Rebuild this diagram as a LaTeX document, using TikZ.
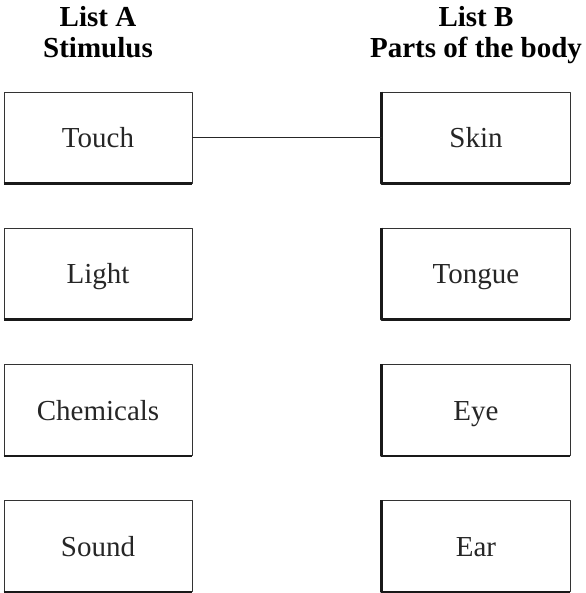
\documentclass[tikz,border=0pt]{standalone}
\usepackage{fontspec}
\setmainfont{Liberation Serif}
\usetikzlibrary{positioning}
\begin{document}
\begin{tikzpicture}[x=1pt, y=-1pt, line cap=round, line join=round,
  itembox/.style={draw=black!80, line width=0.8pt, minimum width=188pt, minimum height=91pt,
    text height=20pt, text depth=0pt, text=black!85, font=\fontsize{29}{34}\selectfont},
  heading/.style={anchor=south, inner sep=0pt, align=center, text depth=0pt,
    font=\bfseries\fontsize{29}{31}\selectfont},
  heavyedge/.style={line width=2.6pt, line cap=butt, black!90}]
  \useasboundingbox (0,0) rectangle (585,593);
  % list A
  \node[itembox] (touch) at (98,137.5) {Touch};
  \node[itembox] (light) at (98,273.5) {Light};
  \node[itembox] (chem)  at (98,410) {Chemicals};
  \node[itembox] (sound) at (98,546) {Sound};
  % list B
  \node[itembox] (skin)   at (476,137.5) {Skin};
  \node[itembox] (tongue) at (476,273.5) {Tongue};
  \node[itembox] (eye)    at (476,410) {Eye};
  \node[itembox] (ear)    at (476,546) {Ear};
  \node[heading] (lista) at (98,58) {List A\\Stimulus};
  \node[heading] (listb) at (476,58) {List B\\Parts of the body};
  % heavy edges
  \draw[heavyedge] (touch.south west) -- (touch.south east);
  \draw[heavyedge] (light.south west) -- (light.south east);
  \draw[heavyedge] (chem.south west) -- (chem.south east);
  \draw[heavyedge] (sound.south west) -- (sound.south east);
  \draw[heavyedge] (skin.north west) -- (skin.south west) -- (skin.south east);
  \draw[heavyedge] (tongue.north west) -- (tongue.south west) -- (tongue.south east);
  \draw[heavyedge] (eye.north west) -- (eye.south west) -- (eye.south east);
  \draw[heavyedge] (ear.north west) -- (ear.south west) -- (ear.south east);
  \draw[black!85, line width=0.8pt] (touch.east) -- (skin.west);
\end{tikzpicture}
\end{document}
